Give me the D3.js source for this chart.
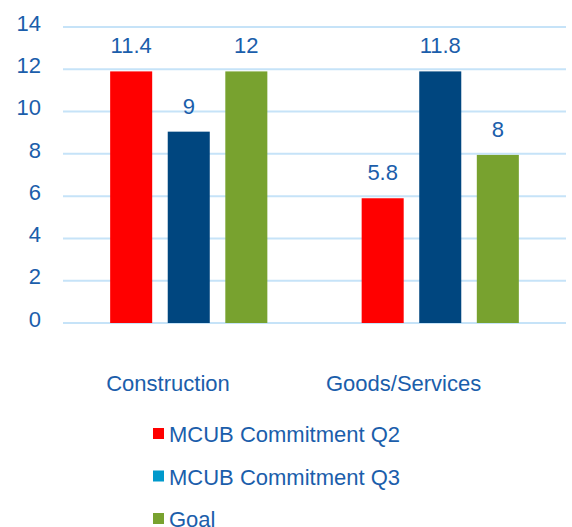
<!DOCTYPE html>
<html>
<head>
<meta charset="utf-8">
<script src="https://cdn.jsdelivr.net/npm/d3@7"></script>
<style>
  body { margin: 0; background: #fff; }
  svg text { font-family: "Liberation Sans", Arial, sans-serif; fill: #1b5eab; }
</style>
</head>
<body>
<div id="chart"></div>
<script>
'use strict'

// data
const categories = ['Construction', 'Goods/Services'];
const seriesNames = ['MCUB Commitment Q2', 'MCUB Commitment Q3', 'Goal'];
// bar heights as drawn
const q2Bars = [11.9, 9.05, 11.9];
const q3Bars = [5.9, 11.9, 7.95];
// data labels as printed
const q2Labels = ['11.4', '9', '12'];
const q3Labels = ['5.8', '11.8', '8'];
const yTicks = [0, 2, 4, 6, 8, 10, 12, 14];

const barColors = ['#ff0000', '#00467f', '#78a22f'];
const legendColors = ['#ff0000', '#0099cc', '#78a22f'];

const width = 572;
const height = 527;
const margin = { top: 27, right: 6, bottom: 205, left: 63 };

const dataset = categories.map((cat, i) => {
  const bars = i === 0 ? q2Bars : q3Bars;
  const labels = i === 0 ? q2Labels : q3Labels;
  return {
    category: cat,
    values: seriesNames.map((s, j) => ({ series: s, value: bars[j], label: labels[j] }))
  };
});

const svg = d3.select('#chart')
  .append('svg')
    .attr('width', width)
    .attr('height', height);

const x0 = d3.scaleBand()
  .domain(categories)
  .range([margin.left, width - margin.right])
  .paddingInner(0)
  .paddingOuter(0);

const x1 = d3.scaleBand()
  .domain(seriesNames)
  .range([0, x0.bandwidth() * 0.625])
  .paddingInner(0.27);

const y = d3.scaleLinear()
  .domain([0, 14])
  .range([height - margin.bottom + 1, margin.top]);

const color = d3.scaleOrdinal(seriesNames, barColors);

// gridlines
svg.append('g')
  .selectAll('line')
  .data(yTicks)
  .enter()
  .append('line')
    .attr('x1', margin.left)
    .attr('x2', width - margin.right)
    .attr('y1', d => y(d))
    .attr('y2', d => y(d))
    .attr('stroke', '#c6e3f8')
    .attr('stroke-width', 2);

// y axis labels
svg.append('g')
  .selectAll('text')
  .data(yTicks)
  .enter()
  .append('text')
    .attr('x', 41)
    .attr('y', d => y(d) - 4)
    .attr('dy', '0.35em')
    .attr('text-anchor', 'end')
    .style('font-size', '22px')
    .text(d => d);

const groups = svg.selectAll('.group')
  .data(dataset)
  .enter()
  .append('g')
    .attr('class', 'group')
    .attr('transform', d => 'translate(' +
      (x0(d.category) + x0.bandwidth() * 0.1875) + ',0)');

groups.selectAll('rect')
  .data(d => d.values)
  .enter()
  .append('rect')
    .attr('x', d => x1(d.series))
    .attr('y', d => y(d.value))
    .attr('width', x1.bandwidth())
    .attr('height', d => y(0) - y(d.value))
    .attr('fill', d => color(d.series));

groups.selectAll('.val')
  .data(d => d.values)
  .enter()
  .append('text')
    .attr('class', 'val')
    .attr('x', d => x1(d.series) + x1.bandwidth() / 2)
    .attr('y', d => y(d.value) - 18)
    .attr('text-anchor', 'middle')
    .style('font-size', '22px')
    .text(d => d.label);

// category labels
svg.append('g')
  .selectAll('text')
  .data(categories)
  .enter()
  .append('text')
    .attr('x', d => x0(d) + x0.bandwidth() / 2 + 41)
    .attr('y', 391)
    .attr('text-anchor', 'end')
    .style('font-size', '22px')
    .text(d => d);

// legend
const legend = svg.append('g')
  .attr('transform', 'translate(153,428)');

const items = legend.selectAll('g')
  .data(seriesNames)
  .enter()
  .append('g')
    .attr('transform', (d, i) => 'translate(0,' + (i * 42.5) + ')');

items.append('rect')
  .attr('width', 11)
  .attr('height', 11)
  .attr('fill', (d, i) => legendColors[i]);

items.append('text')
  .attr('x', 16)
  .attr('y', 14)
  .style('font-size', '22px')
  .text(d => d);
</script>
</body>
</html>
